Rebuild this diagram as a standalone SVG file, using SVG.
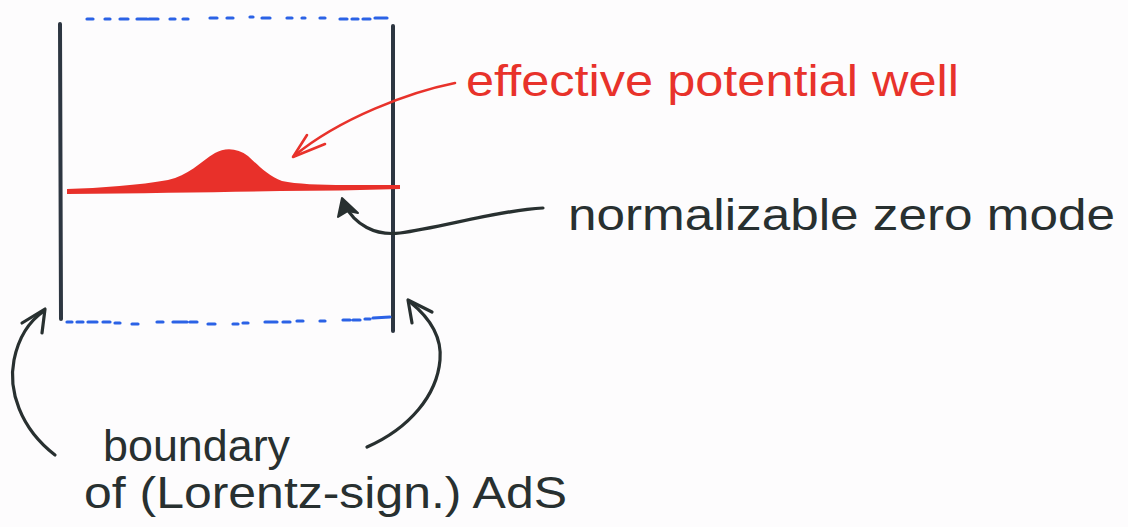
<svg xmlns="http://www.w3.org/2000/svg" width="1128" height="527" viewBox="0 0 1128 527">
  <style>
    .wall { stroke: #2d3641; stroke-width: 4; stroke-linecap: round; fill: none; }
    .dots { stroke: #2b62e6; stroke-width: 3.2; stroke-linecap: round; fill: none; }
    .ink { stroke: #283030; stroke-width: 3.2; stroke-linecap: round; stroke-linejoin: round; fill: none; }
    .redink { stroke: #e8322b; stroke-width: 2.6; stroke-linecap: round; stroke-linejoin: round; fill: none; }
    .label { font-family: "Liberation Sans", "DejaVu Sans", sans-serif; font-size: 44px; fill: #283030; }
    .redlabel { font-family: "Liberation Sans", "DejaVu Sans", sans-serif; font-size: 44px; fill: #e8322b; }
  </style>
  <rect width="1128" height="527" fill="#fdfcfd"/>

  <!-- AdS cylinder: boundary walls and dotted caps -->
  <g id="ads-cylinder">
    <line class="wall" x1="60" y1="24" x2="61" y2="319"/>
    <line class="wall" x1="393" y1="26" x2="393" y2="331"/>
    <path class="dots" d="M87,19 L93,19 M105,19 L110,19 M120,19 L128,19 M137,19 L147,19 M149,19 L158,19 M170,19 L175,19 M183,19 L188,19 M210,18 L217,18 M227,18 L233,18 M250,17 L253,17 M262,18 L270,18 M287,18 L292,18 M302,18 L305,18 M320,18 L325,18 M340,19 L347,19 M352,19 L358,19 M363,19 L370,19 M375,18 L387,18"/>
    <path class="dots" d="M67,322 L72,322 M77,322 L83,322 M88,322 L97,322 M103,322 L110,322 M115,323 L120,323 M132,324 L138,324 M157,322 L163,322 M173,322 L187,322 M190,322 L197,322 M208,324 L215,324 M233,324 L238,324 M243,323 L248,323 M265,322 L277,322 M283,322 L290,322 M297,321 L303,321 M320,321 L325,321 M343,320 L350,320 M353,320 L360,320 M365,319 L370,319 M373,318 L390,317"/>
  </g>

  <!-- effective potential with its peak -->
  <g id="potential-well">
    <path fill="#e8302a" d="M67,189 C100,188 140,185 168,180 C188,176 200,162 215,153 C225,147 238,148 248,156 C258,165 268,176 282,181 C296,184 320,185 345,185 C370,185 390,185 400,185 L400,189 C360,190 320,191 280,191 C220,192 150,193 67,194 Z"/>
  </g>

  <!-- labels -->
  <g id="label-potential">
    <text class="redlabel" x="466" y="96" textLength="493" lengthAdjust="spacingAndGlyphs">effective potential well</text>
  </g>
  <g id="label-zero-mode">
    <text class="label" x="568" y="230" textLength="547" lengthAdjust="spacingAndGlyphs">normalizable zero mode</text>
  </g>
  <g id="label-boundary">
    <text class="label" x="103" y="461" textLength="187" lengthAdjust="spacingAndGlyphs">boundary</text>
    <text class="label" x="84" y="508" textLength="483" lengthAdjust="spacingAndGlyphs">of (Lorentz-sign.) AdS</text>
  </g>

  <!-- pointers from labels to features -->
  <g id="connectors">
    <path class="redink" d="M455,83 C410,92 340,118 294,156"/>
    <path class="redink" d="M307,135 L293,157 L325,144"/>

    <path class="ink" d="M543,208 C500,210 440,228 400,233 C375,236 355,225 344,204"/>
    <path fill="#283030" stroke="#283030" stroke-width="2" stroke-linejoin="round" d="M342,198 L338,217 L348,211 L358,213 Z"/>

    <path class="ink" d="M55,455 C20,428 8,390 14,360 C18,340 28,322 44,311"/>
    <path class="ink" d="M22,323 L45,309 L42,333"/>

    <path class="ink" d="M367,447 C410,428 437,395 440,360 C442,338 430,318 410,302"/>
    <path class="ink" d="M432,312 L408,300 L412,323"/>
  </g>
</svg>
